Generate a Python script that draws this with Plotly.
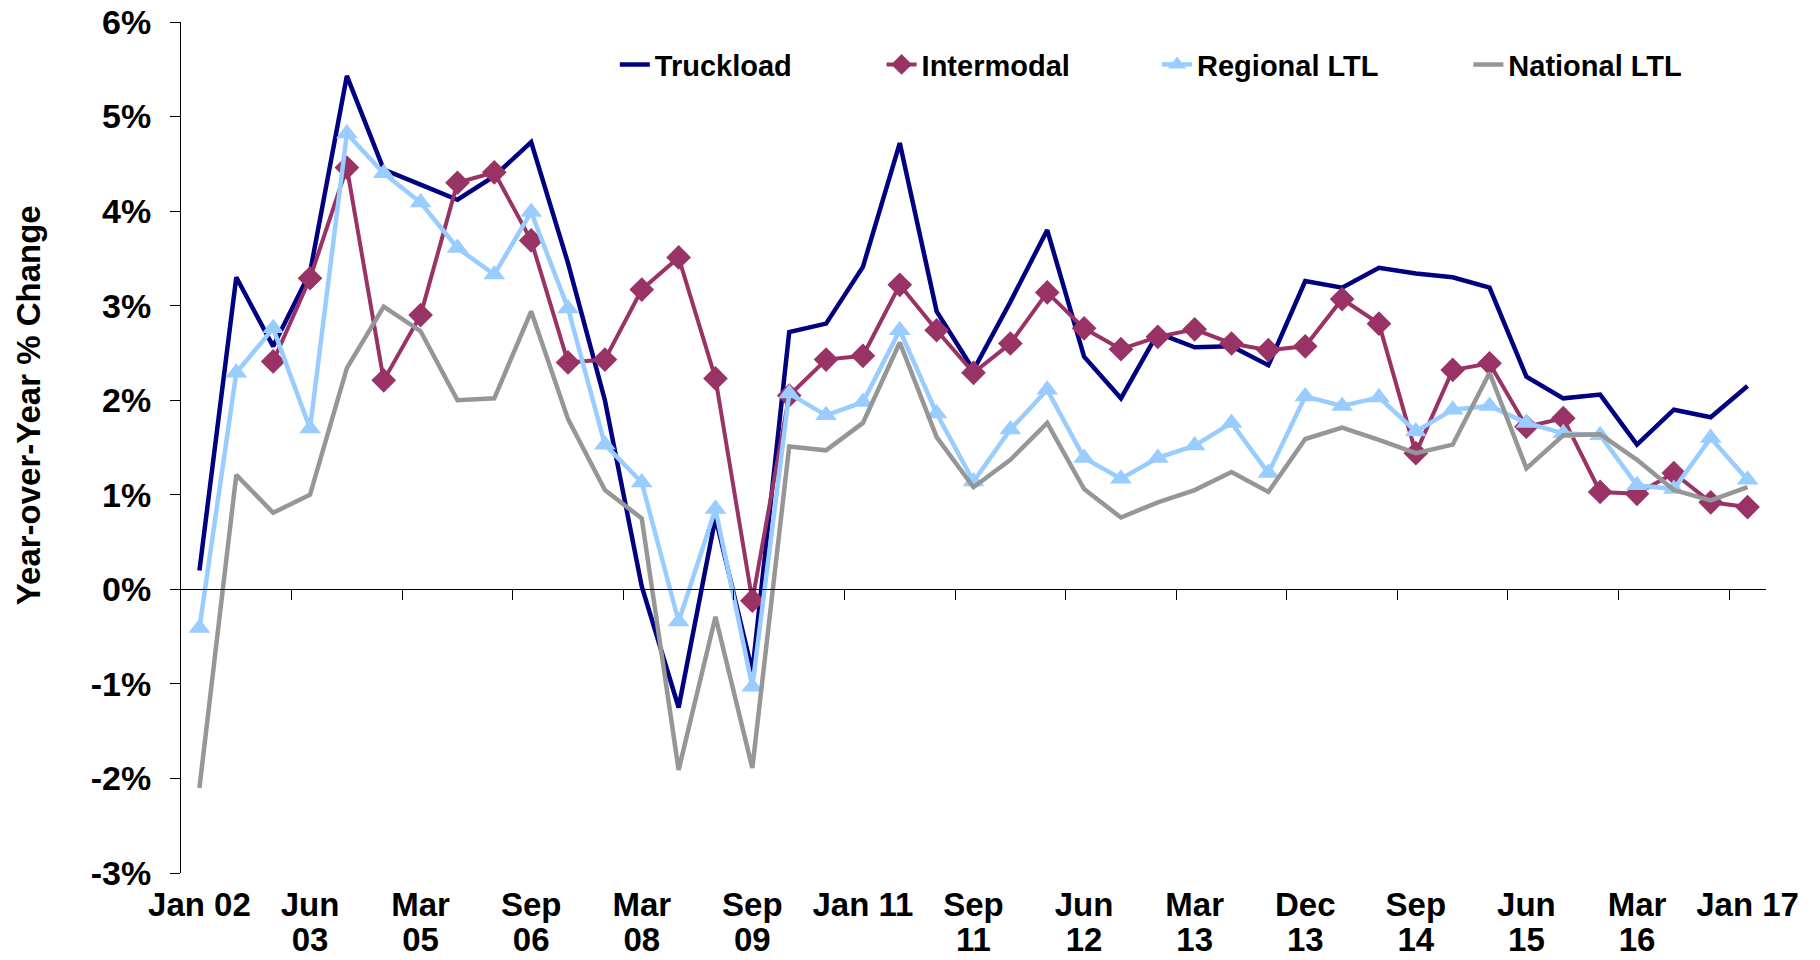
import plotly.graph_objects as go

# ---- data ----
period_index = list(range(43))
tick_positions = [0, 3, 6, 9, 12, 15, 18, 21, 24, 27, 30, 33, 36, 39, 42]
tick_labels_line1 = ["Jan 02", "Jun", "Mar", "Sep", "Mar", "Sep", "Jan 11", "Sep", "Jun",
                     "Mar", "Dec", "Sep", "Jun", "Mar", "Jan 17"]
tick_labels_line2 = ["", "03", "05", "06", "08", "09", "", "11", "12",
                     "13", "13", "14", "15", "16", ""]

truckload = [0.20, 3.30, 2.57, 3.35, 5.43, 4.44, 4.28, 4.12, 4.37, 4.73,
             3.45, 2.00, 0.03, -1.25, 0.76, -0.87, 2.72, 2.81, 3.41, 4.72,
             2.94, 2.32, 3.04, 3.80, 2.46, 2.02, 2.71, 2.56, 2.57, 2.37,
             3.26, 3.19, 3.40, 3.34, 3.30, 3.19, 2.25, 2.02, 2.06, 1.53,
             1.90, 1.82, 2.15]
intermodal = [None, None, 2.41, 3.29, 4.46, 2.21, 2.90, 4.30, 4.41, 3.69,
              2.40, 2.43, 3.17, 3.51, 2.23, -0.12, 2.05, 2.43, 2.47, 3.22,
              2.74, 2.29, 2.60, 3.14, 2.76, 2.54, 2.67, 2.75, 2.60, 2.53,
              2.57, 3.07, 2.81, 1.44, 2.32, 2.39, 1.72, 1.81, 1.03, 1.01,
              1.23, 0.92, 0.87]
regional_ltl = [-0.41, 2.29, 2.76, 1.70, 4.82, 4.40, 4.09, 3.61, 3.33, 3.99,
                2.97, 1.53, 1.13, -0.34, 0.85, -1.03, 2.07, 1.84, 1.98, 2.74,
                1.86, 1.14, 1.69, 2.11, 1.39, 1.17, 1.39, 1.52, 1.76, 1.23,
                2.04, 1.94, 2.03, 1.67, 1.90, 1.94, 1.76, 1.65, 1.63, 1.10,
                1.06, 1.60, 1.16]
national_ltl = [-2.10, 1.21, 0.81, 1.00, 2.34, 2.99, 2.73, 2.00, 2.02, 2.94,
                1.80, 1.05, 0.75, -1.91, -0.29, -1.89, 1.51, 1.47, 1.76, 2.61,
                1.61, 1.08, 1.37, 1.76, 1.06, 0.76, 0.92, 1.05, 1.24, 1.03,
                1.59, 1.71, 1.58, 1.44, 1.53, 2.29, 1.28, 1.63, 1.64, 1.37,
                1.05, 0.94, 1.08]

y_ticks = [-3, -2, -1, 0, 1, 2, 3, 4, 5, 6]
y_tick_labels = ["-3%", "-2%", "-1%", "0%", "1%", "2%", "3%", "4%", "5%", "6%"]
boundary_ticks = [-0.5 + 3 * k for k in range(1, 15)]

FONT = "Arial, Liberation Sans, sans-serif"
YTICKFONT = dict(family=FONT, size=34, color="black", weight="bold")
XTICKFONT = dict(family=FONT, size=33, color="black", weight="bold")

fig = go.Figure()
fig.add_trace(go.Scatter(x=period_index, y=truckload, name="Truckload", mode="lines",
                         line=dict(color="#000080", width=4.5), legend="legend"))
fig.add_trace(go.Scatter(x=period_index, y=intermodal, name="Intermodal", mode="lines+markers",
                         line=dict(color="#993366", width=4),
                         marker=dict(symbol="diamond", size=19, color="#993366"),
                         legend="legend2"))
fig.add_trace(go.Scatter(x=period_index, y=regional_ltl, name="Regional LTL", mode="lines+markers",
                         line=dict(color="#99CCFF", width=4.5),
                         marker=dict(symbol="triangle-up", size=19, color="#99CCFF"),
                         legend="legend3"))
fig.add_trace(go.Scatter(x=period_index, y=national_ltl, name="National LTL", mode="lines",
                         line=dict(color="#969696", width=4.5), legend="legend4"))
# invisible carriers for the helper axes (zero line with ticks, second label row)
for ax in ("x2", "x3"):
    fig.add_trace(go.Scatter(x=[period_index[0]], y=[truckload[0]], xaxis=ax, mode="markers",
                             marker=dict(opacity=0), showlegend=False, hoverinfo="skip"))

def leg(xp):
    return dict(x=xp, y=0.95, xanchor="left", yanchor="middle", orientation="h",
                bgcolor="rgba(0,0,0,0)", itemwidth=30,
                font=dict(family=FONT, size=29, color="black", weight="bold"))

fig.update_layout(
    width=1820, height=960,
    paper_bgcolor="white", plot_bgcolor="white",
    margin=dict(l=181, r=54, t=22, b=87),
    showlegend=True,
    legend=leg(0.2737), legend2=leg(0.4420), legend3=leg(0.6158), legend4=leg(0.8122),
    xaxis=dict(range=[-0.5, 42.5], tickmode="array", tickvals=tick_positions,
               ticktext=tick_labels_line1, ticklabelstandoff=9,
               showline=False, ticks="", showgrid=False, zeroline=False, automargin=False,
               tickfont=XTICKFONT),
    xaxis3=dict(range=[-0.5, 42.5], overlaying="x", anchor="y", side="bottom",
                tickmode="array", tickvals=tick_positions, ticktext=tick_labels_line2,
                ticklabelstandoff=44,
                showline=False, ticks="", showgrid=False, zeroline=False, automargin=False,
                tickfont=XTICKFONT),
    xaxis2=dict(range=[-0.5, 42.5], overlaying="x", anchor="free", position=1/3, side="bottom",
                tickmode="array", tickvals=boundary_ticks, showticklabels=False, automargin=False,
                ticks="outside", ticklen=10, tickwidth=1, tickcolor="black",
                showline=True, linecolor="black", linewidth=1, showgrid=False, zeroline=False),
    yaxis=dict(range=[-3, 6], tickmode="array", tickvals=y_ticks, ticktext=y_tick_labels,
               showline=True, linecolor="black", linewidth=1, automargin=False,
               ticks="outside", ticklen=10, tickcolor="black", showgrid=False, zeroline=False,
               ticklabelstandoff=12, tickfont=YTICKFONT),
    annotations=[dict(text="Year-over-Year % Change", xref="paper", yref="paper",
                      x=-0.0965, y=0.5498, xanchor="center", yanchor="middle",
                      textangle=-90, showarrow=False,
                      font=dict(family=FONT, size=33, color="black", weight="bold"))],
)

fig.write_html("out.html", post_script="document.body.style.margin='0';",
               config={"displayModeBar": False})
